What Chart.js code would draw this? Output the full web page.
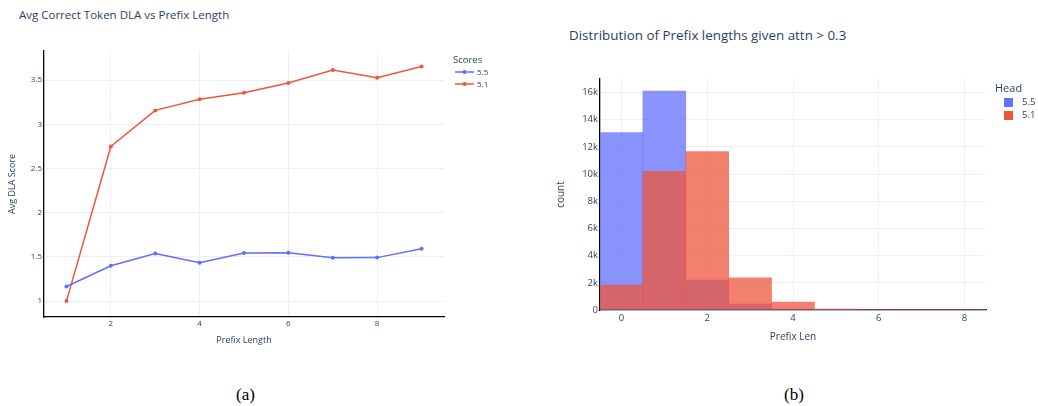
<!DOCTYPE html>
<html>
<head>
<meta charset="utf-8">
<script src="https://cdn.jsdelivr.net/npm/chart.js@4.4.1/dist/chart.umd.min.js"></script>
<style>
  body { margin: 0; width: 1038px; height: 406px; background: #fff; position: relative; overflow: hidden;
         font-family: "Open Sans", sans-serif; color: #2a3f5f; }
  .abs { position: absolute; white-space: nowrap; line-height: 1; }
  canvas { position: absolute; }
  .cap { font-family: "Liberation Serif", "DejaVu Serif", serif; font-size: 17px; color: #000; }
  .sq { display: inline-block; width: 9px; height: 9px; position: absolute; }
</style>
</head>
<body>
<div class="abs" style="left:19px;top:9px;font-size:11.5px">Avg Correct Token DLA vs Prefix Length</div>
<div class="abs" style="left:569px;top:29px;font-size:13.4px">Distribution of Prefix lengths given attn &gt; 0.3</div>

<canvas id="lineChart" width="454" height="309" style="left:0;top:41px"></canvas>
<canvas id="histChart" width="445" height="278" style="left:551px;top:69px"></canvas>

<!-- legend (a) -->
<div class="abs" style="left:453px;top:55px;font-size:9.5px">Scores</div>
<svg class="abs" style="left:455px;top:69px" width="19" height="6"><line x1="0" y1="3" x2="19" y2="3" stroke="#636efa" stroke-width="1.5"/><circle cx="9.5" cy="3" r="2" fill="#636efa"/></svg>
<div class="abs" style="left:477px;top:68px;font-size:8px">5.5</div>
<svg class="abs" style="left:455px;top:81px" width="19" height="6"><line x1="0" y1="3" x2="19" y2="3" stroke="#EF553B" stroke-width="1.5"/><circle cx="9.5" cy="3" r="2" fill="#EF553B"/></svg>
<div class="abs" style="left:477px;top:80px;font-size:8px">5.1</div>

<!-- legend (b) -->
<div class="abs" style="left:995px;top:82px;font-size:11px">Head</div>
<span class="sq" style="left:1004px;top:98px;background:#636efa"></span>
<div class="abs" style="left:1022px;top:97px;font-size:9.5px">5.5</div>
<span class="sq" style="left:1004px;top:111px;background:#EF553B"></span>
<div class="abs" style="left:1022px;top:110px;font-size:9.5px">5.1</div>

<div class="abs cap" style="left:236px;top:386px">(a)</div>
<div class="abs cap" style="left:784px;top:386px">(b)</div>

<script>
// (a) average DLA score per prefix length
const prefixLen = [1, 2, 3, 4, 5, 6, 7, 8, 9];
const dla55 = [1.165, 1.40, 1.538, 1.433, 1.543, 1.546, 1.49, 1.492, 1.592];
const dla51 = [1.0, 2.75, 3.158, 3.283, 3.357, 3.467, 3.614, 3.527, 3.654];
const lineXTicks = [2, 4, 6, 8];
const lineYTicks = [1, 1.5, 2, 2.5, 3, 3.5];

// (b) histogram of prefix lengths, one bin per integer
const binCenters = [0, 1, 2, 3, 4, 5, 6, 7, 8];
const count55 = [13050, 16120, 2200, 440, 60, 5, 0, 0, 0];
const count51 = [1830, 10200, 11650, 2370, 590, 70, 15, 8, 3];
const histXTicks = [0, 2, 4, 6, 8];
const histYTicks = [0, 2000, 4000, 6000, 8000, 10000, 12000, 14000, 16000];

const BLUE = "#636efa";
const RED = "#EF553B";
const GRID = "#ebf0f8";
const TXT = "#2a3f5f";

Chart.defaults.font.family = "'Open Sans', sans-serif";
Chart.defaults.color = TXT;

const pts = (xs, ys) => xs.map((x, i) => ({ x: x, y: ys[i] }));
const fixTicks = list => scale => { scale.ticks = list.map(v => ({ value: v })); };

new Chart(document.getElementById("lineChart"), {
  type: "line",
  data: {
    datasets: [
      { label: "5.5", data: pts(prefixLen, dla55), borderColor: BLUE, backgroundColor: BLUE,
        borderWidth: 1.5, pointRadius: 2, pointBorderWidth: 0, tension: 0 },
      { label: "5.1", data: pts(prefixLen, dla51), borderColor: RED, backgroundColor: RED,
        borderWidth: 1.5, pointRadius: 2, pointBorderWidth: 0, tension: 0 }
    ]
  },
  options: {
    responsive: false,
    animation: false,
    layout: { padding: { top: 10, right: 10, left: 3, bottom: 0 } },
    plugins: { legend: { display: false }, tooltip: { enabled: false } },
    scales: {
      x: {
        type: "linear", min: 0.494, max: 9.506,
        afterBuildTicks: fixTicks(lineXTicks),
        afterFit: s => { s.height = 33; },
        grid: { color: GRID, drawTicks: false },
        border: { color: "#000", width: 1.3 },
        ticks: { font: { size: 8 }, padding: 2, callback: v => String(v) },
        title: { display: true, text: "Prefix Length", font: { size: 9 }, padding: { top: 4, bottom: 4 } }
      },
      y: {
        type: "linear", min: 0.82, max: 3.83,
        afterBuildTicks: fixTicks(lineYTicks),
        afterFit: s => { s.width = 41; },
        grid: { color: GRID, drawTicks: false },
        border: { color: "#000", width: 1.3 },
        ticks: { font: { size: 8 }, padding: 2, callback: v => String(v) },
        title: { display: true, text: "Avg DLA Score", font: { size: 9 }, padding: { top: 4, bottom: 4 } }
      }
    }
  }
});

new Chart(document.getElementById("histChart"), {
  type: "bar",
  data: {
    datasets: [
      { label: "5.5", data: pts(binCenters, count55), backgroundColor: "rgba(99,110,250,0.75)", order: 1 },
      { label: "5.1", data: pts(binCenters, count51), backgroundColor: "rgba(239,85,59,0.75)", order: 0 }
    ]
  },
  options: {
    responsive: false,
    animation: false,
    grouped: false,
    barPercentage: 1,
    categoryPercentage: 1,
    layout: { padding: { top: 10, right: 10, left: 0, bottom: 0 } },
    plugins: { legend: { display: false }, tooltip: { enabled: false } },
    scales: {
      x: {
        type: "linear", min: -0.5, max: 8.5, offset: false,
        afterBuildTicks: fixTicks(histXTicks),
        afterFit: s => { s.height = 37; },
        grid: { color: GRID, drawTicks: false, offset: false },
        border: { color: "#000", width: 1.3 },
        ticks: { font: { size: 9.5 }, padding: 3, callback: v => String(v) },
        title: { display: true, text: "Prefix Len", font: { size: 10 }, padding: { top: 4, bottom: 4 } }
      },
      y: {
        type: "linear", min: 0, max: 17000,
        afterBuildTicks: fixTicks(histYTicks),
        afterFit: s => { s.width = 49; },
        grid: { color: GRID, drawTicks: false },
        border: { color: "#000", width: 1.3 },
        ticks: { font: { size: 9.5 }, padding: 2, callback: v => v === 0 ? "0" : (v / 1000) + "k" },
        title: { display: true, text: "count", font: { size: 10 }, padding: { top: 4, bottom: 4 } }
      }
    }
  }
});
</script>
</body>
</html>
